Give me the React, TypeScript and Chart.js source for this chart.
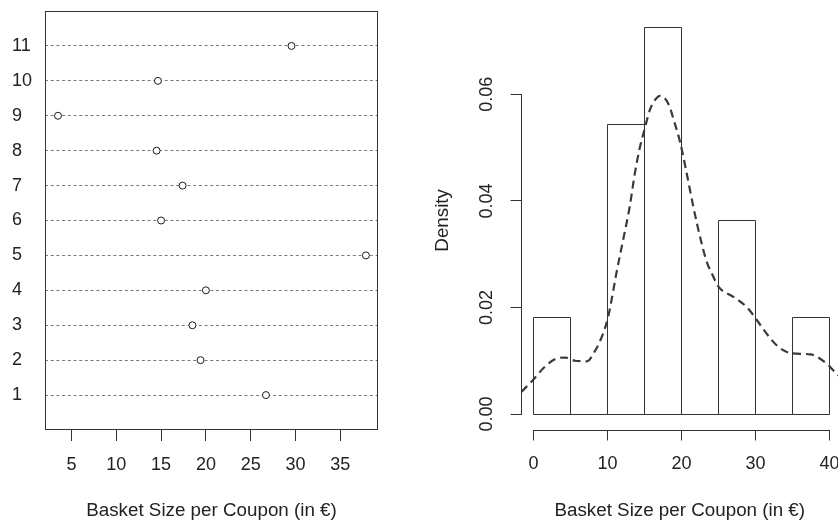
import React, { useEffect, useRef } from "react";
import { Chart, registerables } from "chart.js";

Chart.register(...registerables);

const FONT = "'Liberation Sans', Arial, Helvetica, sans-serif";
const INK = "#222222";
const LINE = "#333333";

// ---- Left panel: dot chart ----
const rowLabels = ["1", "2", "3", "4", "5", "6", "7", "8", "9", "10", "11"];
const basketSizes = [26.7, 19.4, 18.5, 20.0, 37.85, 15.0, 17.4, 14.5, 3.5, 14.65, 29.55];
const dotXTicks = [5, 10, 15, 20, 25, 30, 35];
const dotXRange = [2.05, 39.2];
const dotYRange = [0, 12];

// ---- Right panel: histogram + density ----
const histBreaks = [0, 5, 10, 15, 20, 25, 30, 35, 40];
const histDensity = [0.0182, 0, 0.0545, 0.0727, 0, 0.0364, 0, 0.0182];
const kdeX = [-1.6, 0, 1.55, 3.1, 4.3, 5.6, 7.2, 8.3, 9.4, 10.1, 10.8, 11.2, 12.1, 13.0, 13.7, 14.4, 15.1, 15.7, 16.4, 17.1, 18.2, 19.1, 19.8, 20.7, 21.6, 22.5, 23.4, 24.1, 25.0, 27.0, 28.8, 30.2, 31.5, 33.1, 34.9, 37.4, 39.6, 41.0, 41.6];
const kdeY = [0.0042, 0.0065, 0.0089, 0.0104, 0.0106, 0.0100, 0.0099, 0.0118, 0.0151, 0.0183, 0.0233, 0.0264, 0.0326, 0.0389, 0.0452, 0.0502, 0.0539, 0.0570, 0.0589, 0.0597, 0.0583, 0.0545, 0.0511, 0.0452, 0.0389, 0.0333, 0.0286, 0.0264, 0.0239, 0.0220, 0.0201, 0.0176, 0.0151, 0.0126, 0.0114, 0.0112, 0.0095, 0.0075, 0.0068];
const histXTicks = [0, 10, 20, 30, 40];
const histYTicks = [0, 0.02, 0.04, 0.06];
const histYTickLabels = ["0.00", "0.02", "0.04", "0.06"];
const histXRange = [-1.62, 41.15];
const histYRange = [-0.0029, 0.0756];

const xTitle = "Basket Size per Coupon (in €)";
const yTitle = "Density";

const W = 838;
const H = 522;
const HALF = 419;

const zeroPad = (s: any) => {
  s.paddingLeft = 0;
  s.paddingRight = 0;
  s.paddingTop = 0;
  s.paddingBottom = 0;
};

const boxPlugin = {
  id: "boxFrame",
  beforeDatasetsDraw(chart: any) {
    const { ctx, chartArea: a } = chart;
    ctx.save();
    ctx.strokeStyle = LINE;
    ctx.lineWidth = 1;
    const l = Math.round(a.left) + 0.5;
    const t = Math.round(a.top) + 0.5;
    const r = Math.round(a.right) - 0.5;
    const b = Math.round(a.bottom) - 0.5;
    ctx.strokeRect(l, t, r - l, b - t);
    ctx.restore();
  },
};

// Outlines the histogram rectangles from the bar elements laid out by Chart.js
const barOutlinePlugin = {
  id: "barOutline",
  beforeDatasetsDraw(chart: any) {
    const { ctx } = chart;
    ctx.save();
    ctx.strokeStyle = LINE;
    ctx.lineWidth = 1;
    chart.data.datasets.forEach((ds: any, di: number) => {
      if (ds.type !== "bar") return;
      const meta = chart.getDatasetMeta(di);
      meta.data.forEach((el: any) => {
        const { x, y, base, width } = el.getProps(["x", "y", "base", "width"], true);
        const l = Math.round(x - width / 2) + 0.5;
        const r = Math.round(x + width / 2) + 0.5;
        const t = Math.round(Math.min(y, base)) + 0.5;
        const b = Math.round(Math.max(y, base)) + 0.5;
        ctx.beginPath();
        ctx.moveTo(l, b);
        ctx.lineTo(l, t);
        ctx.lineTo(r, t);
        ctx.lineTo(r, b);
        ctx.closePath();
        ctx.stroke();
      });
    });
    ctx.restore();
  },
};

const axisLinePlugin = {
  id: "axisLines",
  afterDraw(chart: any) {
    const { ctx, chartArea: a } = chart;
    const xs = chart.scales.x;
    const ys = chart.scales.y;
    ctx.save();
    ctx.strokeStyle = LINE;
    ctx.lineWidth = 1;
    ctx.beginPath();
    const yb = Math.round(a.bottom) + 0.5;
    ctx.moveTo(Math.round(xs.getPixelForValue(histXTicks[0])) + 0.5, yb);
    ctx.lineTo(Math.round(xs.getPixelForValue(histXTicks[histXTicks.length - 1])) + 0.5, yb);
    const xl = Math.round(a.left) - 0.5;
    ctx.moveTo(xl, Math.round(ys.getPixelForValue(histYTicks[0])) + 0.5);
    ctx.lineTo(xl, Math.round(ys.getPixelForValue(histYTicks[histYTicks.length - 1])) + 0.5);
    ctx.stroke();
    ctx.restore();
  },
};

export default function App() {
  const leftRef = useRef<HTMLCanvasElement | null>(null);
  const rightRef = useRef<HTMLCanvasElement | null>(null);

  useEffect(() => {
    const tickFont = { family: FONT, size: 18 };
    const titleFont = { family: FONT, size: 18.8 };

    const left = new Chart(leftRef.current as HTMLCanvasElement, {
      type: "scatter",
      data: {
        datasets: [
          {
            data: basketSizes.map((v, i) => ({ x: v, y: i + 1 })),
            pointRadius: 3.5,
            pointHoverRadius: 3.5,
            pointBorderWidth: 1,
            pointBorderColor: "#1a1a1a",
            pointBackgroundColor: "#ffffff",
            showLine: false,
          },
        ],
      },
      options: {
        animation: false,
        responsive: false,
        devicePixelRatio: 1,
        events: [],
        layout: { padding: { left: 12, top: 11, right: 41, bottom: 0 }, autoPadding: false },
        plugins: { legend: { display: false }, tooltip: { enabled: false } },
        scales: {
          x: {
            type: "linear",
            min: dotXRange[0],
            max: dotXRange[1],
            afterBuildTicks: (s: any) => {
              s.ticks = dotXTicks.map((v) => ({ value: v }));
            },
            afterFit: (s: any) => {
              s.height = 92;
              zeroPad(s);
            },
            grid: { display: true, drawOnChartArea: false, drawTicks: true, tickLength: 11, tickColor: LINE, tickWidth: 1 },
            border: { display: false },
            ticks: { font: tickFont, color: INK, padding: 13, maxRotation: 0, minRotation: 0, autoSkip: false },
            title: { display: true, text: xTitle, font: titleFont, color: INK, padding: { top: 0, bottom: 0 } },
          },
          y: {
            type: "linear",
            min: dotYRange[0],
            max: dotYRange[1],
            afterBuildTicks: (s: any) => {
              s.ticks = rowLabels.map((_, i) => ({ value: i + 1 }));
            },
            afterFit: (s: any) => {
              s.width = 33;
              zeroPad(s);
            },
            grid: { display: true, drawOnChartArea: true, drawTicks: false, color: "#7a7a7a", lineWidth: 1 },
            border: { display: false, dash: [3, 2.7] },
            ticks: {
              callback: (v: any) => rowLabels[Number(v) - 1],
              crossAlign: "far",
              font: tickFont,
              color: INK,
              padding: 0,
              autoSkip: false,
            },
          },
        },
      },
      plugins: [boxPlugin],
    } as any);

    const centers = histDensity.map((_, i) => (histBreaks[i] + histBreaks[i + 1]) / 2);

    const right = new Chart(rightRef.current as HTMLCanvasElement, {
      type: "bar",
      data: {
        datasets: [
          {
            type: "line",
            data: kdeX.map((x, i) => ({ x, y: kdeY[i] })),
            borderColor: "#3a3a3a",
            borderWidth: 2.2,
            borderDash: [8, 5],
            pointRadius: 0,
            fill: false,
            cubicInterpolationMode: "monotone",
            order: 0,
          },
          {
            type: "bar",
            data: centers.map((x, i) => ({ x, y: histDensity[i] })),
            backgroundColor: "rgba(0,0,0,0)",
            borderColor: "rgba(0,0,0,0)",
            borderWidth: 0,
            barPercentage: 1,
            categoryPercentage: 1,
            order: 1,
          },
        ],
      },
      options: {
        animation: false,
        responsive: false,
        devicePixelRatio: 1,
        events: [],
        layout: { padding: { left: 0, top: 11.2, right: 0, bottom: 0 }, autoPadding: false },
        plugins: { legend: { display: false }, tooltip: { enabled: false } },
        scales: {
          x: {
            type: "linear",
            offset: false,
            min: histXRange[0],
            max: histXRange[1],
            afterBuildTicks: (s: any) => {
              s.ticks = histXTicks.map((v) => ({ value: v }));
            },
            afterFit: (s: any) => {
              s.height = 92.5;
              zeroPad(s);
            },
            grid: { display: true, offset: false, drawOnChartArea: false, drawTicks: true, tickLength: 11, tickColor: LINE, tickWidth: 1 },
            border: { display: false },
            ticks: { font: tickFont, color: INK, padding: 13, maxRotation: 0, minRotation: 0, autoSkip: false },
            title: { display: true, text: xTitle, font: titleFont, color: INK, padding: { top: 0, bottom: 0 } },
          },
          y: {
            type: "linear",
            min: histYRange[0],
            max: histYRange[1],
            beginAtZero: false,
            afterBuildTicks: (s: any) => {
              s.ticks = histYTicks.map((v) => ({ value: v }));
            },
            afterFit: (s: any) => {
              s.width = 102.5;
              zeroPad(s);
            },
            grid: { display: true, drawOnChartArea: false, drawTicks: true, tickLength: 11, tickColor: LINE, tickWidth: 1 },
            border: { display: false },
            ticks: {
              callback: (v: any) => {
                const k = histYTicks.indexOf(Number(v));
                return k >= 0 ? histYTickLabels[k] : "";
              },
              crossAlign: "center",
              minRotation: 90,
              maxRotation: 90,
              font: tickFont,
              color: INK,
              padding: 6,
              autoSkip: false,
            },
            title: { display: true, text: yTitle, font: titleFont, color: INK, padding: { top: 12.7, bottom: 0 } },
          },
        },
      },
      plugins: [barOutlinePlugin, axisLinePlugin],
    } as any);

    return () => {
      left.destroy();
      right.destroy();
    };
  }, []);

  return (
    <div style={{ position: "absolute", left: 0, top: 0, width: W, height: H, background: "#ffffff" }}>
      <canvas
        ref={leftRef}
        width={HALF}
        height={H}
        style={{ position: "absolute", left: 0, top: 0, width: HALF, height: H }}
      />
      <canvas
        ref={rightRef}
        width={W - HALF}
        height={H}
        style={{ position: "absolute", left: HALF, top: 0, width: W - HALF, height: H }}
      />
    </div>
  );
}
